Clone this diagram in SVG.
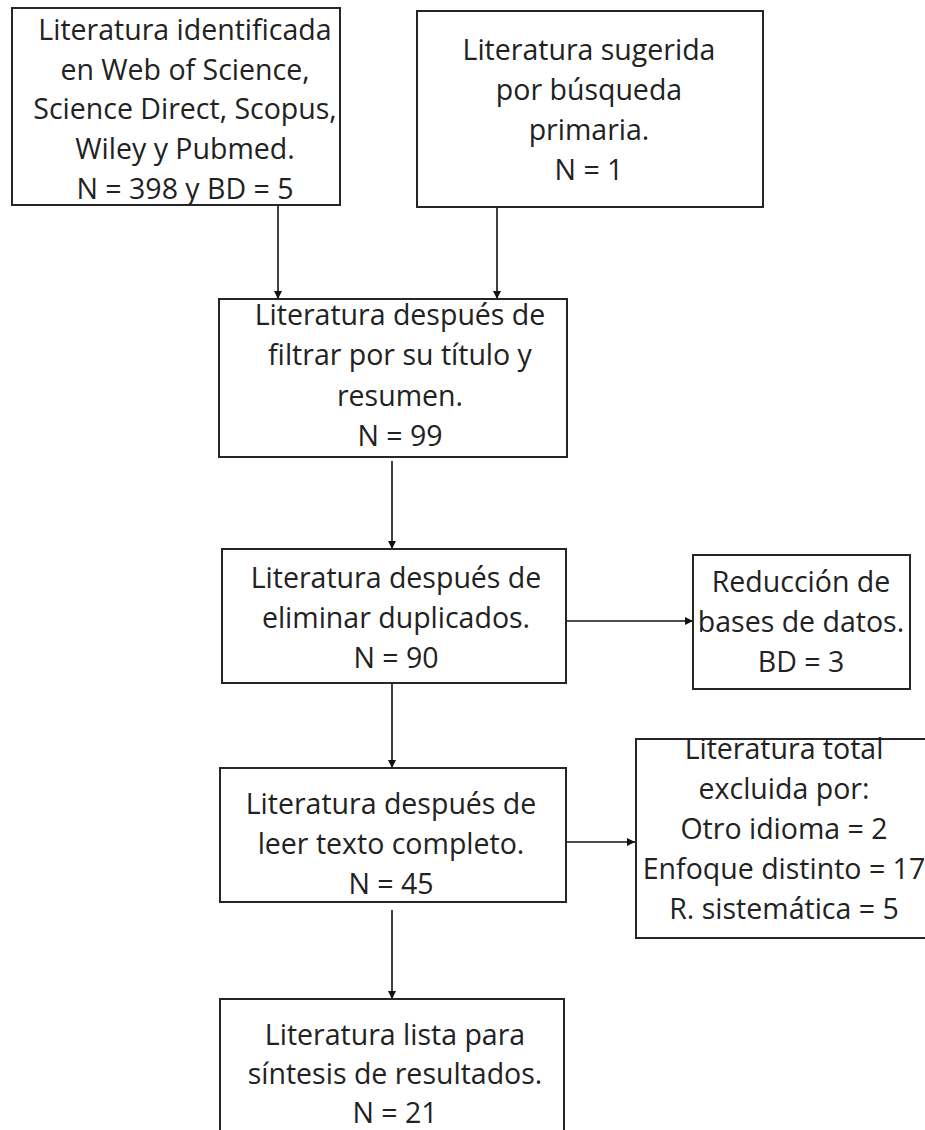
<svg xmlns="http://www.w3.org/2000/svg" width="925" height="1130" viewBox="0 0 925 1130">
<style>
.box{fill:#fff;stroke:#262626;stroke-width:2}
.t{font-family:"Open Sans","Liberation Sans",sans-serif;font-size:28.5px;fill:#222;text-anchor:middle}
.c{stroke:#111;stroke-width:1.6;fill:none;marker-end:url(#ah)}
</style>
<defs>
<marker id="ah" markerUnits="userSpaceOnUse" markerWidth="9" markerHeight="9" refX="8" refY="4.5" orient="auto">
<path d="M0,0.5 L8,4.5 L0,8.5 z" fill="#111"/>
</marker>
</defs>
<rect width="925" height="1130" fill="#fff"/>
<g id="connectors">
<line class="c" x1="278" y1="206" x2="278" y2="299"/>
<line class="c" x1="497" y1="208" x2="497" y2="299"/>
<line class="c" x1="392" y1="461" x2="392" y2="549"/>
<line class="c" x1="567" y1="621" x2="693" y2="621"/>
<line class="c" x1="392" y1="684" x2="392" y2="768"/>
<line class="c" x1="567" y1="842" x2="635" y2="842"/>
<line class="c" x1="392" y1="910" x2="392" y2="999"/>
</g>
<g id="n1">
<rect class="box" x="12" y="8" width="328" height="197"/>
<text class="t" x="185" y="40">Literatura identificada</text>
<text class="t" x="185" y="80">en Web of Science,</text>
<text class="t" x="185" y="119">Science Direct, Scopus,</text>
<text class="t" x="185" y="159">Wiley y Pubmed.</text>
<text class="t" x="185" y="199">N = 398 y BD = 5</text>
</g>
<g id="n2">
<rect class="box" x="417" y="11" width="346" height="196"/>
<text class="t" x="589" y="60">Literatura sugerida</text>
<text class="t" x="589" y="100">por búsqueda</text>
<text class="t" x="589" y="140">primaria.</text>
<text class="t" x="589" y="180">N = 1</text>
</g>
<g id="n3">
<rect class="box" x="219" y="299" width="348" height="158"/>
<text class="t" x="400" y="325">Literatura después de</text>
<text class="t" x="400" y="365">filtrar por su título y</text>
<text class="t" x="400" y="406">resumen.</text>
<text class="t" x="400" y="446">N = 99</text>
</g>
<g id="n4">
<rect class="box" x="222" y="549" width="344" height="134"/>
<text class="t" x="396" y="588">Literatura después de</text>
<text class="t" x="396" y="628">eliminar duplicados.</text>
<text class="t" x="396" y="668">N = 90</text>
</g>
<g id="n5">
<rect class="box" x="693" y="555" width="217" height="134"/>
<text class="t" x="801" y="592">Reducción de</text>
<text class="t" x="801" y="632">bases de datos.</text>
<text class="t" x="801" y="672">BD = 3</text>
</g>
<g id="n6">
<rect class="box" x="220" y="768" width="346" height="134"/>
<text class="t" x="391" y="814">Literatura después de</text>
<text class="t" x="391" y="854">leer texto completo.</text>
<text class="t" x="391" y="894">N = 45</text>
</g>
<g id="n7">
<rect class="box" x="636" y="739" width="296" height="199"/>
<text class="t" x="784" y="759">Literatura total</text>
<text class="t" x="784" y="799">excluida por:</text>
<text class="t" x="784" y="839">Otro idioma = 2</text>
<text class="t" x="784" y="879">Enfoque distinto = 17</text>
<text class="t" x="784" y="919">R. sistemática = 5</text>
</g>
<g id="n8">
<rect class="box" x="220" y="999" width="344" height="200"/>
<text class="t" x="395" y="1045">Literatura lista para</text>
<text class="t" x="395" y="1084">síntesis de resultados.</text>
<text class="t" x="395" y="1123">N = 21</text>
</g>
</svg>
